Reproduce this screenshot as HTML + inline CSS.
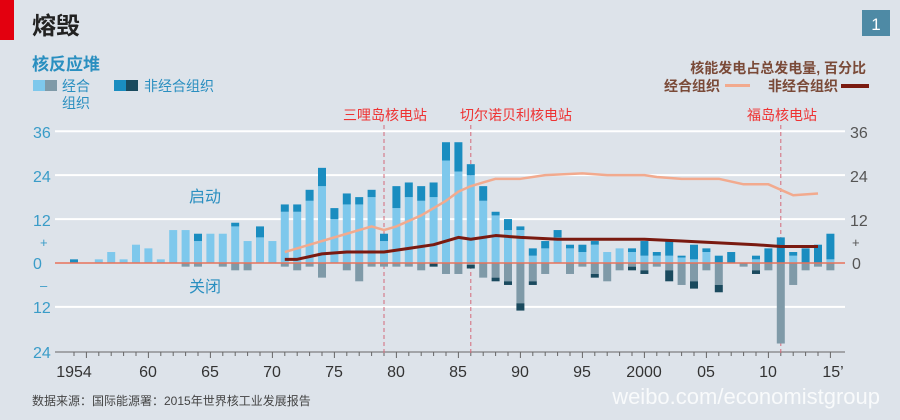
<!DOCTYPE html>
<html><head><meta charset="utf-8"><style>
html,body{margin:0;padding:0;background:#dde3ea;}
svg{display:block;font-family:"Liberation Sans","Noto Sans CJK SC",sans-serif;}
</style></head><body>
<svg id="s" width="900" height="420" viewBox="0 0 900 420">
<rect width="900" height="420" fill="#dde3ea"/>
<rect x="0" y="0" width="14" height="40" fill="#e3000f"/>
<text x="32" y="34" font-size="24" fill="#222" font-weight="bold">熔毁</text>
<rect x="862" y="10" width="28" height="26" fill="#4e8aa5"/>
<text x="876" y="30" font-size="17" fill="#fff" text-anchor="middle">1</text>
<text x="32" y="70" font-size="17" fill="#2a8fc0" font-weight="bold">核反应堆</text>
<rect x="33" y="80" width="12" height="11" fill="#7ec8ec"/><rect x="45" y="80" width="12" height="11" fill="#7f9aa8"/>
<text x="62" y="91" font-size="14" fill="#2a8fc0">经合</text>
<text x="62" y="108" font-size="14" fill="#2a8fc0">组织</text>
<rect x="114" y="80" width="12" height="11" fill="#1a8dc0"/><rect x="126" y="80" width="12" height="11" fill="#1a4a5e"/>
<text x="144" y="91" font-size="14" fill="#2a8fc0">非经合组织</text>
<text x="866" y="73" font-size="14" fill="#7a4a38" text-anchor="end" font-weight="bold">核能发电占总发电量, 百分比</text>
<text x="720" y="91" font-size="14" fill="#7a4a38" text-anchor="end" font-weight="bold">经合组织</text>
<rect x="725" y="84" width="25" height="3" fill="#f2aa8e"/>
<text x="838" y="91" font-size="14" fill="#7a4a38" text-anchor="end" font-weight="bold">非经合组织</text>
<rect x="841" y="84" width="28" height="4" fill="#7a1a10"/>
<g id="grid"></g>
<text x="385" y="120" font-size="14" fill="#e33" text-anchor="middle">三哩岛核电站</text>
<text x="516" y="120" font-size="14" fill="#e33" text-anchor="middle">切尔诺贝利核电站</text>
<text x="782" y="120" font-size="14" fill="#e33" text-anchor="middle">福岛核电站</text>
<g font-size="16" fill="#3a9cc8">
<text x="33" y="138">36</text><text x="33" y="182">24</text><text x="33" y="226">12</text>
<text x="40" y="247" font-size="13">+</text><text x="33" y="269">0</text><text x="40" y="290" font-size="13">–</text>
<text x="33" y="313">12</text><text x="33" y="358">24</text>
</g>
<g font-size="16" fill="#555">
<text x="850" y="138">36</text><text x="850" y="182">24</text><text x="850" y="226">12</text>
<text x="852" y="247" font-size="13">+</text><text x="852" y="269">0</text>
</g>
<text x="205" y="202" font-size="16" fill="#2a8fc0" text-anchor="middle">启动</text>
<text x="205" y="292" font-size="16" fill="#2a8fc0" text-anchor="middle">关闭</text>
<g font-size="16" fill="#333" text-anchor="middle">
<text x="74" y="377">1954</text><text x="148" y="377">60</text><text x="210" y="377">65</text><text x="272" y="377">70</text><text x="334" y="377">75</text><text x="396" y="377">80</text><text x="458" y="377">85</text><text x="520" y="377">90</text><text x="582" y="377">95</text><text x="644" y="377">2000</text><text x="706" y="377">05</text><text x="768" y="377">10</text><text x="833" y="377">15’</text>
</g>
<text x="32" y="405" font-size="12" fill="#444">数据来源：国际能源署：2015年世界核工业发展报告</text>
<text x="880" y="404" font-size="22" fill="#fff" fill-opacity="0.8" text-anchor="end">weibo.com/economistgroup</text>
</svg>
<script>
var s=document.getElementById('s'),g=document.getElementById('grid'),NS='http://www.w3.org/2000/svg';
function X(y){return 384+(y-1979)*12.4}
function Y(v){return 263-v*3.66}
function el(p,t,a){var e=document.createElementNS(NS,t);for(var k in a)e.setAttribute(k,a[k]);p.appendChild(e);return e}
[36,24,12,-12].forEach(function(v){el(g,'line',{x1:55,x2:845,y1:Y(v),y2:Y(v),stroke:'#fff','stroke-width':2})});
el(g,'line',{x1:55,x2:845,y1:352,y2:352,stroke:'#666','stroke-width':1});
for(var y=1954;y<=2015;y++){var h=(y%5==0)?6:4;el(g,'line',{x1:X(y),x2:X(y),y1:352,y2:352+h,stroke:'#666','stroke-width':1})}
[1979,1986,2011].forEach(function(y){el(g,'line',{x1:X(y),x2:X(y),y1:125,y2:356,stroke:'#d46a7a','stroke-dasharray':'4,3','stroke-width':1})});
// year: [upLight, upDark, downLight, downDark]
var d={1954:[0,1,0,0],1955:[0,0,0,0],1956:[1,0,0,0],1957:[3,0,0,0],1958:[1,0,0,0],1959:[5,0,0,0],1960:[4,0,0,0],1961:[1,0,0,0],1962:[9,0,0,0],1963:[9,0,1,0],1964:[6,2,1,0],1965:[8,0,0,0],1966:[8,0,1,0],1967:[10,1,2,0],1968:[6,0,2,0],1969:[7,3,0,0],1970:[6,0,0,0],1971:[14,2,1,0],1972:[14,2,2,0],1973:[17,3,1,0],1974:[21,5,4,0],1975:[12,3,0,0],1976:[16,3,2,0],1977:[16,2,5,0],1978:[18,2,1,0],1979:[6,2,1,0],1980:[15,6,1,0],1981:[18,4,1,0],1982:[17,4,2,0],1983:[18,4,0,1],1984:[28,5,3,0],1985:[25,8,3,0],1986:[24,3,0.5,1],1987:[17,4,4,0],1988:[13,1,4,1],1989:[9,3,5,1],1990:[9,1,11,2],1991:[2,2,5,1],1992:[4,2,3,0],1993:[7,2,0,0],1994:[4,1,3,0],1995:[3,2,1,0],1996:[5,1,3,1],1997:[3,0,5,0],1998:[4,0,2,0],1999:[3,1,1,1],2000:[2,4,2,1],2001:[2,1,1,0],2002:[2,4,2,3],2003:[1.5,0.5,6,0],2004:[1,4,5,2],2005:[3,1,2,0],2006:[0,2,6,2],2007:[0,3,0,0],2008:[0,0,1,0],2009:[1,1,2,1],2010:[0,4,2,0],2011:[0,7,22,0],2012:[2,1,6,0],2013:[0,4,2,0],2014:[0,5,1,0],2015:[1,7,2,0]};
var bw=8;
for(var y in d){var v=d[y],x=X(+y)-bw/2;
 if(v[0])el(s,'rect',{x:x,y:Y(v[0]),width:bw,height:v[0]*3.66,fill:'#7ec8ec'});
 if(v[1])el(s,'rect',{x:x,y:Y(v[0]+v[1]),width:bw,height:v[1]*3.66,fill:'#1a8dc0'});
 if(v[2])el(s,'rect',{x:x,y:263,width:bw,height:v[2]*3.66,fill:'#7f9aa8'});
 if(v[3])el(s,'rect',{x:x,y:263+v[2]*3.66,width:bw,height:v[3]*3.66,fill:'#1a4a5e'});
}
el(s,'line',{x1:55,x2:845,y1:263,y2:263,stroke:'#e8735a','stroke-width':1.5});
function line(pts,c,w){el(s,'polyline',{points:pts.map(function(p){return X(p[0])+','+Y(p[1])}).join(' '),fill:'none',stroke:c,'stroke-width':w,'stroke-linejoin':'round'})}
line([[1971,3],[1973,5],[1975,7],[1977,9],[1978,10],[1979,9],[1980,10],[1982,13],[1984,17],[1985,19.5],[1986,21],[1987,22],[1988,23],[1990,23],[1992,24],[1995,24.5],[1997,24],[2000,24],[2001,23.5],[2003,23],[2006,23],[2008,21.5],[2010,21.5],[2011,20],[2012,18.5],[2014,19]],'#f2aa8e',2.5);
line([[1971,1],[1972,1],[1974,2.5],[1976,3],[1979,3],[1981,4],[1983,5],[1985,7],[1986,6.5],[1988,7.5],[1990,7],[1993,6.5],[1995,6.5],[2000,6.5],[2003,6],[2006,5.5],[2009,5],[2011,4.5],[2014,4.5]],'#7a1a10',3);
</script>
</body></html>
